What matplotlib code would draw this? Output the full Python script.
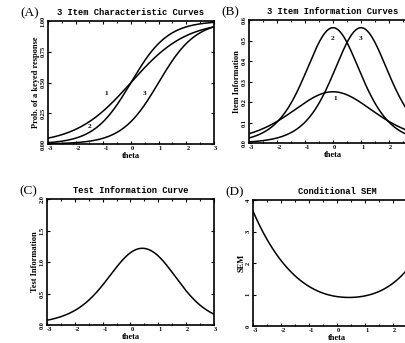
import numpy as np
import matplotlib
matplotlib.use("Agg")
import matplotlib.pyplot as plt
from matplotlib.ticker import MultipleLocator

# Item parameters (2PL)
item_labels = ["1", "2", "3"]
discrimination = [1.0, 1.5, 1.5]
difficulty = [0.0, 0.0, 1.0]

xticks = [-3, -2, -1, 0, 1, 2, 3]
icc_yticks = [0.0, 0.25, 0.5, 0.75, 1.0]
icc_yticklabels = ["0.00", "0.25", "0.50", "0.75", "1.00"]
iic_yticks = [0.0, 0.1, 0.2, 0.3, 0.4, 0.5, 0.6]
iic_yticklabels = ["0.0", "0.1", "0.2", "0.3", "0.4", "0.5", "0.6"]
tic_yticks = [0.0, 0.5, 1.0, 1.5, 2.0]
tic_yticklabels = ["0.0", "0.5", "1.0", "1.5", "2.0"]
sem_yticks = [0, 1, 2, 3, 4]
sem_yticklabels = ["0", "1", "2", "3", "4"]

# curve label positions (theta, value)
icc_label_pos = [(-0.9, 0.41), (-1.5, 0.14), (0.5, 0.41)]
iic_label_pos = [(0.07, 0.215), (0.0, 0.51), (1.0, 0.51)]

theta = np.linspace(-3, 3, 301)
P = [1.0 / (1.0 + np.exp(-a * (theta - b))) for a, b in zip(discrimination, difficulty)]
I = [a * a * p * (1 - p) for a, p in zip(discrimination, P)]
TI = np.sum(I, axis=0)
SEM = 1.0 / np.sqrt(TI)

W, H = 406, 343
fig = plt.figure(figsize=(W / 100, H / 100), dpi=100)

def rect(l, r, t, b):
    return [l / W, 1 - b / H, (r - l) / W, (b - t) / H]

axA = fig.add_axes(rect(48, 214, 21, 144))
axB = fig.add_axes(rect(249, 417, 20, 143))
axC = fig.add_axes(rect(47, 214, 199, 325))
axD = fig.add_axes(rect(253, 421, 200, 326))

title_font = dict(family="Liberation Mono", fontweight="bold", fontsize=6.3)
tick_font = dict(family="Liberation Serif", fontweight="bold", fontsize=4.6)
curve_font = dict(family="Liberation Serif", fontweight="bold", fontsize=5.2)
lab_font = dict(family="Liberation Serif", fontweight="bold", fontsize=6.0)
panel_font = dict(family="Liberation Serif", fontsize=9.5)

def style(ax, yticks, yticklabels, ylim, title, ylabel, panel, clip_last=False):
    ax.set_xlim(-3, 3)
    ax.set_ylim(*ylim)
    ax.set_xticks(xticks)
    ax.set_xticklabels([str(t) for t in xticks], **tick_font)
    labs = ax.get_xticklabels()
    for lab in labs:
        lab.set_ha("left")
    if clip_last:
        labs[-1].set_visible(False)
    ax.xaxis.set_minor_locator(MultipleLocator(0.5))
    ax.set_yticks(yticks)
    ax.set_yticklabels(yticklabels, rotation=90, va="center", **tick_font)
    ax.tick_params(which="both", direction="in", top=True, right=True, width=0.8, pad=1.5)
    ax.tick_params(which="major", length=2.5)
    ax.tick_params(which="minor", length=1.5)
    for s in ax.spines.values():
        s.set_linewidth(1.2)
    ax.set_title(title, pad=4, **title_font)
    ax.set_ylabel(ylabel, labelpad=0.5, **lab_font)
    ax.set_xlabel("theta", labelpad=0.5, **lab_font)
    ax.text(-0.165, 1.06, panel, transform=ax.transAxes, ha="left", va="center", **panel_font)

lw = 1.1
for p in P:
    axA.plot(theta, p, color="black", lw=lw)
for lab, (x, y) in zip(item_labels, icc_label_pos):
    axA.text(x, y, lab, ha="center", va="center", **curve_font)
style(axA, icc_yticks, icc_yticklabels, (0, 1), "3 Item Characteristic Curves",
      "Prob. of a keyed response", "(A)")

for i in I:
    axB.plot(theta, i, color="black", lw=lw)
for lab, (x, y) in zip(item_labels, iic_label_pos):
    axB.text(x, y, lab, ha="center", va="center", **curve_font)
style(axB, iic_yticks, iic_yticklabels, (0, 0.6), "3 Item Information Curves",
      "Item Information", "(B)", clip_last=True)

axC.plot(theta, TI, color="black", lw=lw)
style(axC, tic_yticks, tic_yticklabels, (0, 2.0), "Test Information Curve",
      "Test Information", "(C)")

axD.plot(theta, SEM, color="black", lw=lw)
style(axD, sem_yticks, sem_yticklabels, (0, 4), "Conditional SEM", "SEM", "(D)",
      clip_last=True)

fig.savefig("out.png", dpi=100)
